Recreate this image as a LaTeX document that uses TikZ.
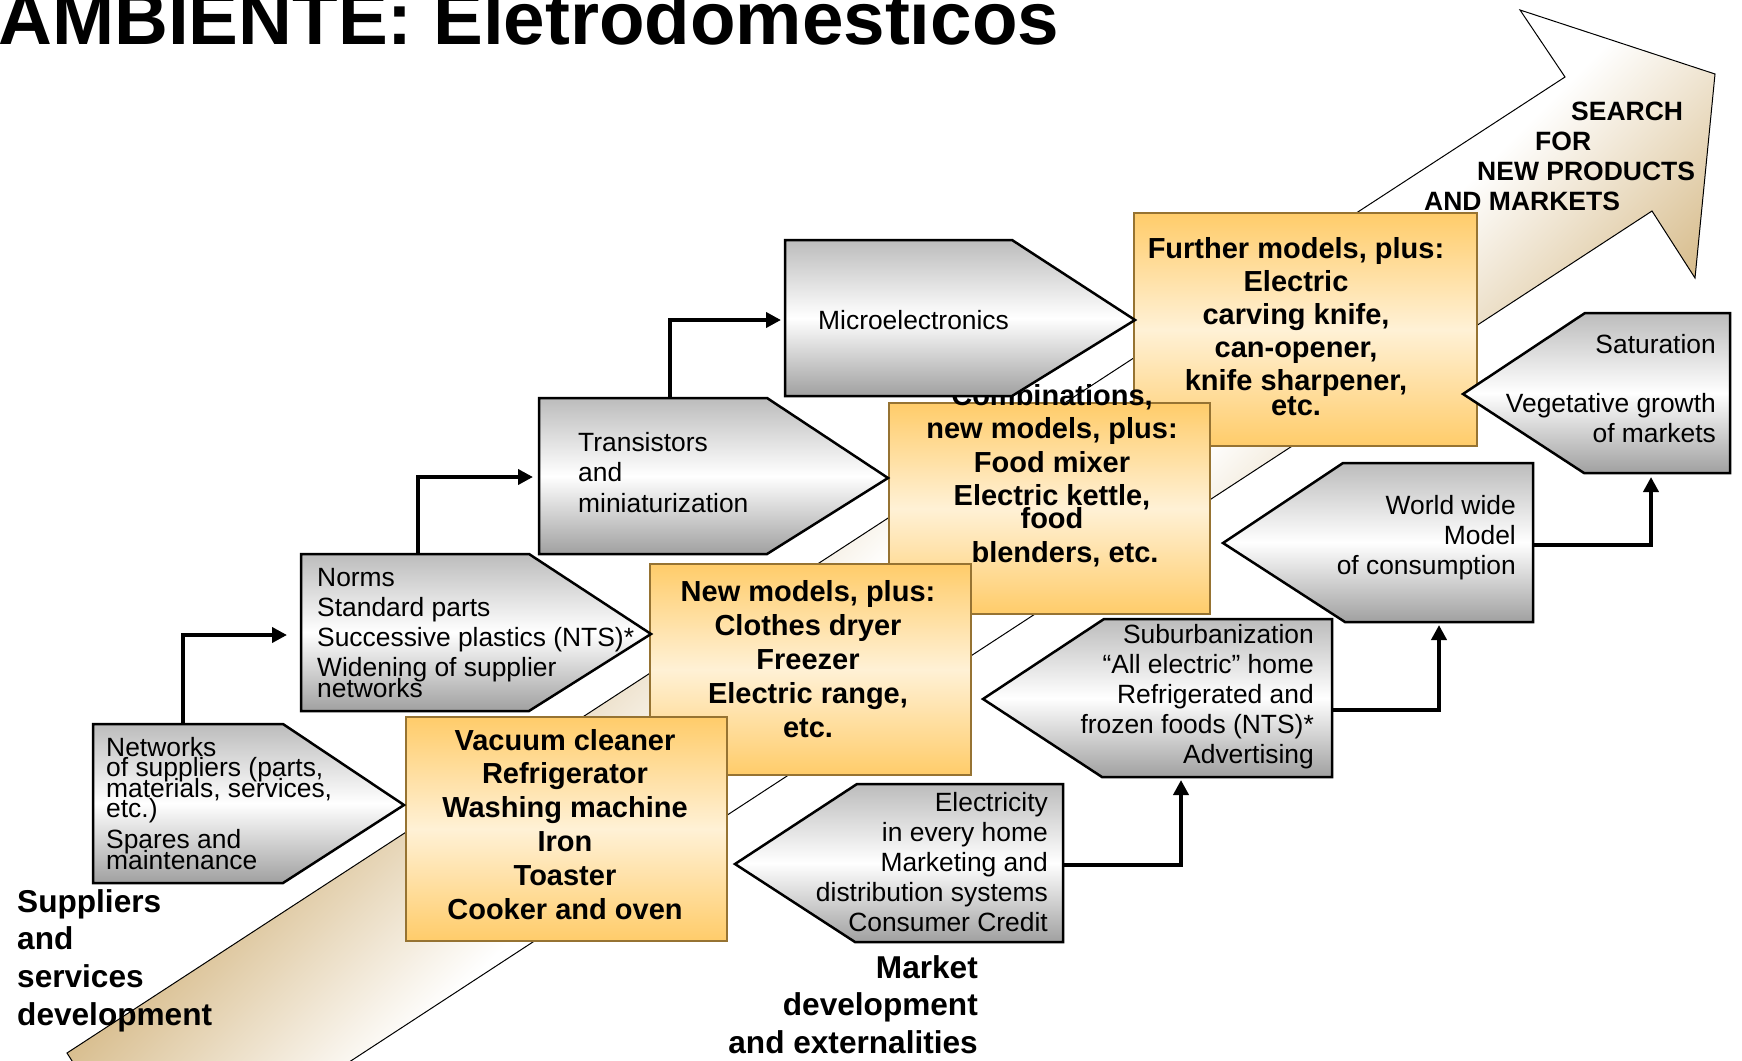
\documentclass[tikz,border=0pt]{standalone}
\usepackage{fontspec}
\setmainfont{Liberation Sans}
\usetikzlibrary{arrows.meta}

\definecolor{tanC}{RGB}{214,186,136}
\definecolor{orTop}{RGB}{255,204,106}
\definecolor{orMid}{RGB}{255,241,214}
\definecolor{orLine}{RGB}{150,115,50}
\definecolor{gyTop}{RGB}{188,188,188}
\definecolor{gyBot}{RGB}{160,160,160}

% stacked lines with a fixed baseline distance; the box baseline is the first line
\newcommand{\stackL}[2]{\vtop{\baselineskip=#1\relax\lineskiplimit=-100pt\lineskip=0pt\halign{##\hfil\cr#2\crcr}}}
\newcommand{\stackR}[2]{\vtop{\baselineskip=#1\relax\lineskiplimit=-100pt\lineskip=0pt\halign{\hfil##\cr#2\crcr}}}
\newcommand{\stackC}[2]{\vtop{\baselineskip=#1\relax\lineskiplimit=-100pt\lineskip=0pt\halign{\hfil##\hfil\cr#2\crcr}}}

\begin{document}
\begin{tikzpicture}[x=1pt,y=-1pt,
  outline/.style={draw=black,line width=1pt,line join=miter},
  orangebox/.style={draw=orLine,line width=1.5pt,top color=orTop,bottom color=orTop,middle color=orMid,inner sep=0pt,outer sep=0pt,anchor=north west},
  greyshape/.style={draw=black,line width=2.5pt,line join=miter,top color=gyTop,bottom color=gyBot,middle color=white},
  link/.style={draw=black,line width=4pt,line join=miter,-{Triangle[length=15pt,width=15pt]}},
  plain/.style={inner sep=0pt,font=\fontsize{26.4}{30}\selectfont},
  heavy/.style={inner sep=0pt,font=\fontsize{29}{33}\selectfont\bfseries},
  label/.style={inner sep=0pt,font=\fontsize{31.6}{38}\selectfont\bfseries}
]
\useasboundingbox (0,0) rectangle (1742,1060);
\clip (0,0) rectangle (1742,1060);

% ---- large trend arrow in the background ----
\begin{scope}
  \clip (67,1053) -- (1565,77) -- (1520,10) -- (1715,74) -- (1695,278)
        -- (1652,211) -- (291,1100) -- (97,1100) -- cycle;
  \begin{scope}[transform canvas={rotate=-45}]
    \fill[tanC] (-800,-1600) rectangle (779,1600);
    \shade[left color=tanC,right color=white] (778,-1600) rectangle (1026,1600);
    \fill[white] (1025,-1600) rectangle (1168,1600);
    \shade[left color=white,right color=tanC] (1167,-1600) rectangle (1401,1600);
    \fill[tanC] (1400,-1600) rectangle (3000,1600);
  \end{scope}
\end{scope}
\draw[outline] (67,1053) -- (1565,77) -- (1520,10) -- (1715,74) -- (1695,278)
      -- (1652,211) -- (291,1100) -- (97,1100) -- cycle;

% ---- title ----
\node[inner sep=0pt,anchor=base west,font=\fontsize{74.6}{80}\selectfont\bfseries] (title) at (-2,44) {AMBIENTE: Eletrodomesticos};

% ---- product boxes ----
\node[orangebox,minimum width=343pt,minimum height=233pt] (further) at (1134,213) {};
\node[heavy,anchor=base] (further-t) at (1296,258)
  {\stackC{33pt}{Further models, plus:\cr Electric\cr carving knife,\cr can-opener,\cr knife sharpener,\cr\noalign{\vskip-8pt}etc.}};

\node[orangebox,minimum width=321pt,minimum height=211pt] (combi) at (889,403) {};
\node[heavy,anchor=base] (combi-t) at (1052,405)
  {\stackC{33.5pt}{Combinations,\cr new models, plus:\cr Food mixer\cr Electric kettle,\cr\noalign{\vskip-11pt}food\cr\noalign{\vskip0.5pt}\hspace*{26pt}blenders, etc.}};

\node[orangebox,minimum width=321pt,minimum height=211pt] (newm) at (650,564) {};
\node[heavy,anchor=base] (newm-t) at (808,601)
  {\stackC{34pt}{New models, plus:\cr Clothes dryer\cr Freezer\cr Electric range,\cr etc.}};

\node[orangebox,minimum width=321pt,minimum height=224pt] (vac) at (406,717) {};
\node[heavy,anchor=base] (vac-t) at (565,750)
  {\stackC{33.9pt}{Vacuum cleaner\cr Refrigerator\cr Washing machine\cr Iron\cr Toaster\cr Cooker and oven}};

% ---- supplier side (pointing right) ----
\draw[greyshape] (93,724) -- (283,724) -- (404,805) -- (283,883) -- (93,883) -- cycle;
\node[plain,anchor=base west] (nets-t) at (106,756)
  {\stackL{20.5pt}{Networks\cr of suppliers (parts,\cr materials, services,\cr etc.)\cr\noalign{\vskip10.5pt}Spares and\cr maintenance}};
\coordinate (nets-n) at (183,724);

\draw[greyshape] (301,554) -- (529,554) -- (651,634) -- (529,711) -- (301,711) -- cycle;
\node[plain,anchor=base west] (norms-t) at (317,586)
  {\stackL{30pt}{Norms\cr Standard parts\cr Successive plastics (NTS)*\cr Widening of supplier\cr\noalign{\vskip-9pt}networks}};
\coordinate (norms-n) at (418,554);
\coordinate (norms-in) at (287,635);

\draw[greyshape] (539,398) -- (767,398) -- (888,478) -- (767,554) -- (539,554) -- cycle;
\node[plain,anchor=base west] (trans-t) at (578,451)
  {\stackL{30.5pt}{Transistors\cr and\cr miniaturization}};
\coordinate (trans-n) at (670,398);
\coordinate (trans-in) at (533,477);

\draw[greyshape] (785,240) -- (1012,240) -- (1135,320) -- (1012,396) -- (785,396) -- cycle;
\node[plain,anchor=base west] (micro-t) at (818,329) {Microelectronics};
\coordinate (micro-in) at (781,320);

% ---- market side (pointing left) ----
\draw[greyshape] (1463,394) -- (1585,313) -- (1730,313) -- (1730,473) -- (1584,473) -- cycle;
\node[plain,anchor=base east] (sat-t) at (1716,353)
  {\stackR{30pt}{Saturation\cr\noalign{\vskip29pt}Vegetative growth\cr of markets}};
\coordinate (sat-in) at (1651,477);

\draw[greyshape] (1223,543) -- (1343,463) -- (1533,463) -- (1533,622) -- (1345,622) -- cycle;
\node[plain,anchor=base east] (world-t) at (1516,514)
  {\stackR{30pt}{World wide\cr Model\cr of consumption}};
\coordinate (world-e) at (1533,545);
\coordinate (world-in) at (1439,625);

\draw[greyshape] (983,699) -- (1104,619) -- (1332,619) -- (1332,777) -- (1102,777) -- cycle;
\node[plain,anchor=base east] (sub-t) at (1314,643)
  {\stackR{30pt}{Suburbanization\cr “All electric” home\cr Refrigerated and\cr frozen foods (NTS)*\cr Advertising}};
\coordinate (sub-e) at (1332,710);
\coordinate (sub-in) at (1181,780);

\draw[greyshape] (735,864) -- (857,784) -- (1063,784) -- (1063,942) -- (855,942) -- cycle;
\node[plain,anchor=base east] (elec-t) at (1048,811)
  {\stackR{30pt}{Electricity\cr in every home\cr Marketing and\cr distribution systems\cr Consumer Credit}};
\coordinate (elec-e) at (1063,865);

% ---- connectors ----
\draw[link] (nets-n) |- (norms-in);
\draw[link] (norms-n) |- (trans-in);
\draw[link] (trans-n) |- (micro-in);
\draw[link] (elec-e) -| (sub-in);
\draw[link] (sub-e) -| (world-in);
\draw[link] (world-e) -| (sat-in);

% ---- side labels ----
\node[inner sep=0pt,anchor=base west,font=\fontsize{26.5}{30}\selectfont\bfseries] (search) at (1424,120)
  {\stackL{30.3pt}{\hspace*{147pt}SEARCH\cr\hspace*{111pt}FOR\cr\hspace*{53pt}NEW PRODUCTS\cr AND MARKETS}};
\node[label,anchor=base west] (suppliers) at (17,912)
  {\stackL{37.7pt}{Suppliers\cr and\cr services\cr development}};
\node[label,anchor=base east] (market) at (978,978)
  {\stackR{37.5pt}{Market\cr development\cr and externalities}};
\end{tikzpicture}
\end{document}
